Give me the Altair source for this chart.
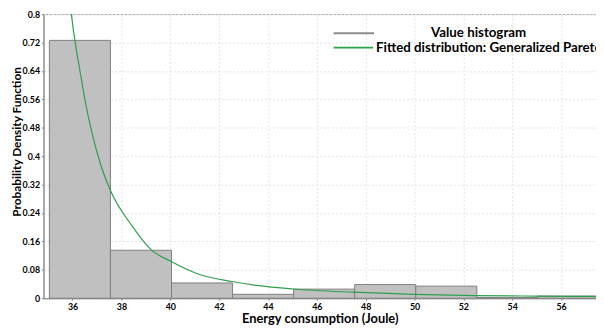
import altair as alt
import pandas as pd

# Histogram bins (Energy consumption, Joule) and densities
bin_start = [35.05, 37.55, 40.05, 42.55, 45.05, 47.55, 50.05, 52.55, 55.05]
bin_end = [37.55, 40.05, 42.55, 45.05, 47.55, 50.05, 52.55, 55.05, 57.55]
density = [0.726, 0.135, 0.043, 0.011, 0.0256, 0.0385, 0.034, 0.002, 0.006]

# Fitted Generalized Pareto curve
curve_x = [35.85, 35.95, 36.09, 36.30, 36.53, 37.11, 37.56, 38.42, 39.21, 40.02,
           41.11, 42.53, 43.54, 45.02, 47.49, 50.0, 52.5, 54.97, 57.43]
curve_y = [0.86, 0.80, 0.728, 0.641, 0.55, 0.385, 0.302, 0.205, 0.137, 0.104,
           0.069, 0.047, 0.036, 0.026, 0.017, 0.011, 0.0075, 0.006, 0.005]

legend_labels = ["Value histogram", "Fitted distribution: Generalized Pareto"]
x_ticks = [36, 38, 40, 42, 44, 46, 48, 50, 52, 54, 56]
y_ticks = [0, 0.08, 0.16, 0.24, 0.32, 0.4, 0.48, 0.56, 0.64, 0.72, 0.8]

hist = pd.DataFrame({"start": bin_start, "end": bin_end, "density": density})
curve = pd.DataFrame({"x": curve_x, "y": curve_y})

FONT = "Lato"
TOP = 4
W, H = 560, 292 - TOP

xscale = alt.Scale(domain=[34.81, 57.43], nice=False, zero=False)
yscale = alt.Scale(domain=[0, 0.8], nice=False)

xaxis = alt.Axis(values=x_ticks, title="Energy consumption (Joule)", format="d",
                 labelFontSize=9, labelPadding=2, tickSize=2, tickColor="#808080",
                 labelOverlap=False,
                 titleFontSize=13, titleY=25, titleBaseline="alphabetic",
                 grid=True, gridColor="#e4e4e4", gridDash=[2, 2])
yaxis = alt.Axis(values=y_ticks, title="Probability Density Function", format=".2~f",
                 labelFontSize=9, labelPadding=2, tickSize=2, tickColor="#808080",
                 labelOverlap=False, labelFlush=False,
                 titleFontSize=12, titleX=-27, titleY=132 - (TOP - 1), titleAngle=270,
                 titleBaseline="middle", titleAlign="center",
                 grid=True, gridColor="#e4e4e4", gridDash=[2, 2])

bars = alt.Chart(hist).mark_rect(fill="#c0c0c0", stroke="#7f7f7f", strokeWidth=1).encode(
    x=alt.X("start:Q", scale=xscale, axis=xaxis),
    x2="end:Q",
    y=alt.Y("density:Q", scale=yscale, axis=yaxis),
    y2=alt.datum(0),
)

line = alt.Chart(curve).mark_line(color="#2f9e4f", strokeWidth=1.2, interpolate="monotone",
                                  clip=True).encode(
    x=alt.X("x:Q", scale=xscale, axis=xaxis),
    y=alt.Y("y:Q", scale=yscale, axis=yaxis),
)

dy = TOP - 1
leg_df = pd.DataFrame({"label": legend_labels})
leg_rule1 = alt.Chart(leg_df.iloc[[0]]).mark_rule(color="#8c8c8c", strokeWidth=2).encode(
    x=alt.value(294), x2=alt.value(335), y=alt.value(22.5 - dy))
leg_rule2 = alt.Chart(leg_df.iloc[[1]]).mark_rule(color="#2aa04a", strokeWidth=2).encode(
    x=alt.value(294), x2=alt.value(334), y=alt.value(37 - dy))
leg_text1 = alt.Chart(leg_df.iloc[[0]]).mark_text(
    font=FONT, fontWeight="bold", fontSize=13.5, align="center", baseline="middle", color="black"
).encode(x=alt.value(441), y=alt.value(22 - dy), text="label:N")
leg_text2 = alt.Chart(leg_df.iloc[[1]]).mark_text(
    font=FONT, fontWeight="bold", fontSize=13.5, align="left", baseline="middle", color="black"
).encode(x=alt.value(337), y=alt.value(37 - dy), text="label:N")

chart = alt.layer(bars, line, leg_rule1, leg_rule2, leg_text1, leg_text2).properties(
    width=W, height=H,
    autosize=alt.AutoSizeParams(type="none"),
    padding={"left": 36, "top": TOP, "right": 0, "bottom": 28},
).configure_view(stroke="#a6a6a6").configure_axis(
    labelFont=FONT, labelFontWeight="bold", labelColor="black",
    titleFont=FONT, titleFontWeight="bold", titleColor="black",
    domainColor="#808080", labelOverlap=False,
)

chart.save("out.html", embed_options={"renderer": "svg", "actions": False})
